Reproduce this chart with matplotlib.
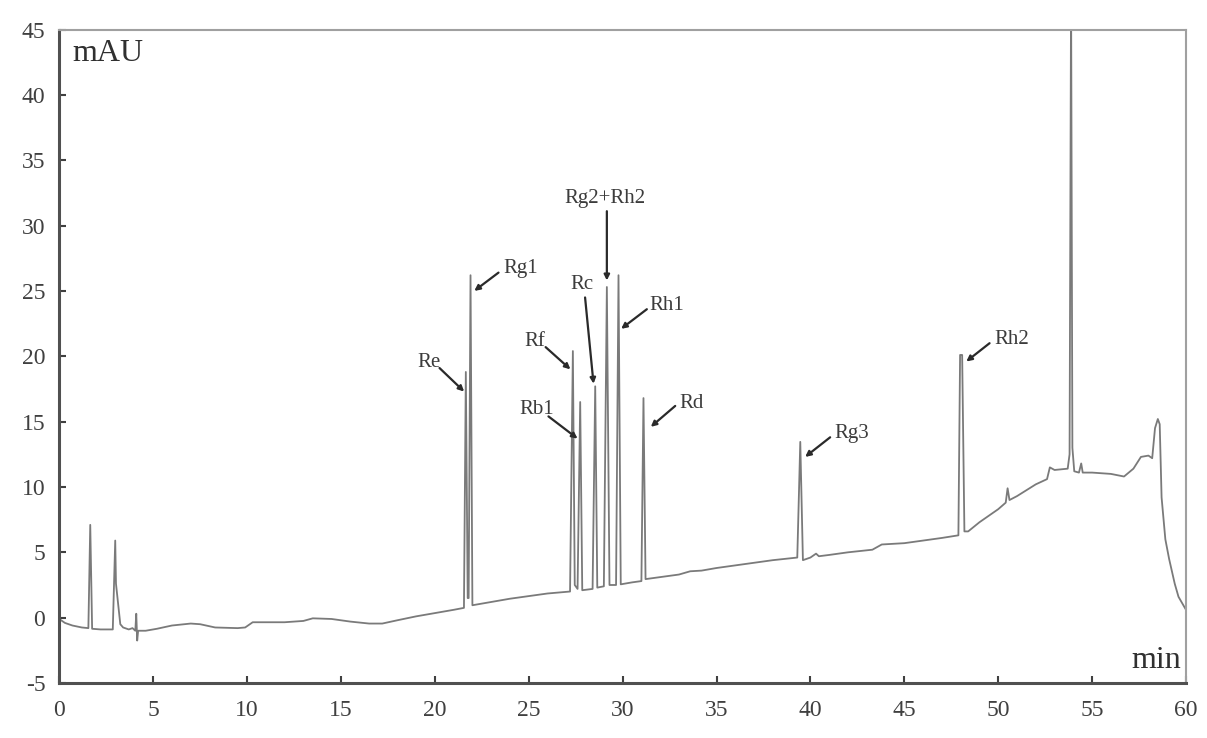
import matplotlib
matplotlib.use("Agg")
import matplotlib.pyplot as plt

# chromatogram trace (time in min, signal in mAU)
time = [0.0, 0.3, 0.7, 1.2, 1.55, 1.65, 1.75, 2.2, 2.85, 2.98, 3.02, 3.1, 3.25, 3.4,
        3.7, 3.9, 4.05, 4.1, 4.15, 4.2, 4.6, 5.2, 6.0, 7.0, 7.5, 8.3, 9.5, 9.9,
        10.3, 12.0, 13.0, 13.5, 14.5, 15.5, 16.5, 17.2, 18.0, 19.0, 20.0, 21.0,
        21.55, 21.65, 21.75, 21.8, 21.9, 22.0, 23.0, 24.0, 25.0, 26.0, 27.2,
        27.35, 27.45, 27.6, 27.74, 27.85, 28.4, 28.54, 28.65, 29.0, 29.16, 29.3,
        29.65, 29.78, 29.9, 30.5, 31.0, 31.11, 31.22, 32.0, 33.0, 33.6, 34.2,
        35.0, 36.0, 37.0, 38.0, 39.3, 39.46, 39.6, 40.0, 40.3, 40.45, 41.0, 42.0,
        43.3, 43.8, 45.0, 46.0, 47.0, 47.88, 47.97, 48.08, 48.2, 48.4, 49.0,
        50.0, 50.4, 50.5, 50.6, 51.0, 52.0, 52.6, 52.75, 53.0, 53.7, 53.8, 53.88,
        53.95, 54.05, 54.3, 54.42, 54.5, 55.0, 56.0, 56.7, 57.2, 57.6, 58.0,
        58.2, 58.35, 58.5, 58.6, 58.7, 58.9, 59.1, 59.4, 59.6, 60.0]
signal = [-0.1, -0.4, -0.6, -0.75, -0.8, 7.1, -0.85, -0.9, -0.9, 5.9, 2.6, 1.5, -0.5, -0.75,
          -0.9, -0.8, -1.0, 0.3, -1.75, -1.0, -1.0, -0.85, -0.6, -0.45, -0.5, -0.75, -0.8, -0.75,
          -0.35, -0.35, -0.25, -0.05, -0.1, -0.3, -0.45, -0.45, -0.2, 0.1, 0.35, 0.6,
          0.75, 18.8, 1.5, 1.5, 26.2, 0.95, 1.2, 1.45, 1.65, 1.85, 2.0,
          20.4, 2.5, 2.2, 16.5, 2.1, 2.2, 17.7, 2.3, 2.4, 25.3, 2.5,
          2.5, 26.2, 2.55, 2.7, 2.8, 16.8, 2.95, 3.1, 3.3, 3.55, 3.6,
          3.8, 4.0, 4.2, 4.4, 4.6, 13.45, 4.4, 4.6, 4.9, 4.7, 4.8, 5.0,
          5.2, 5.6, 5.7, 5.9, 6.1, 6.3, 20.1, 20.1, 6.6, 6.6, 7.3,
          8.3, 8.8, 9.9, 9.0, 9.3, 10.2, 10.6, 11.5, 11.3, 11.4, 12.5, 48.0,
          13.0, 11.2, 11.1, 11.8, 11.1, 11.1, 11.0, 10.8, 11.4, 12.3, 12.4,
          12.2, 14.5, 15.2, 14.8, 9.2, 6.0, 4.5, 2.6, 1.6, 0.6]

# peak labels: text position and arrow (tail -> head) in data units
peak_names = ["Re", "Rg1", "Rf", "Rb1", "Rc", "Rg2+Rh2", "Rh1", "Rd", "Rg3", "Rh2"]
label_xy = [(19.67, 19.5), (24.55, 26.7), (25.35, 21.1), (25.43, 15.9), (27.83, 25.5),
            (29.07, 32.1), (32.36, 23.9), (33.68, 16.4), (42.2, 14.1), (50.7, 21.25)]
arrow_tail = [(20.25, 19.1), (23.39, 26.4), (25.9, 20.7), (26.05, 15.4), (28.0, 24.5),
              (29.16, 31.1), (31.29, 23.6), (32.8, 16.2), (41.05, 13.8), (49.54, 21.0)]
arrow_head = [(21.56, 17.3), (22.1, 25.0), (27.22, 19.0), (27.6, 13.7), (28.45, 17.9),
              (29.16, 25.8), (29.92, 22.1), (31.5, 14.6), (39.72, 12.3), (48.3, 19.6)]

plt.rcParams['font.family'] = ['Liberation Serif', 'DejaVu Serif']
plt.rcParams['axes.unicode_minus'] = False

fig = plt.figure(figsize=(12.07, 7.38), dpi=100)
ax = fig.add_axes([0.0491, 0.0745, 0.9335, 0.8855])

ax.plot(time, signal, color='#7a7a7a', linewidth=1.3)

for name, txt, tail, head in zip(peak_names, label_xy, arrow_tail, arrow_head):
    ax.text(txt[0], txt[1], name, fontsize=15, color='#3c3c3c', ha='center', va='center')
    ax.annotate('', xy=head, xytext=tail,
                arrowprops=dict(arrowstyle='-|>', color='#2a2a2a', lw=1.6,
                                mutation_scale=8, shrinkA=0, shrinkB=0))

ax.set_xlim(0, 60)
ax.set_ylim(-5, 45)
ax.set_xticks(range(0, 61, 5))
ax.set_yticks(range(-5, 46, 5))
ax.tick_params(direction='in', length=5, width=1.5, colors='#404040', labelsize=17,
               top=False, right=False, pad=10)
ax.tick_params(axis='x', pad=12)

for side in ['left', 'bottom']:
    ax.spines[side].set_color('#505050')
    ax.spines[side].set_linewidth(2.2)
for side in ['top', 'right']:
    ax.spines[side].set_color('#a0a0a0')
    ax.spines[side].set_linewidth(1.5)

ax.text(0.012, 0.985, 'mAU', transform=ax.transAxes, fontsize=23, color='#303030',
        ha='left', va='top')
ax.text(0.996, 0.012, 'min', transform=ax.transAxes, fontsize=23, color='#303030',
        ha='right', va='bottom')

fig.savefig('out.png', dpi=100)
